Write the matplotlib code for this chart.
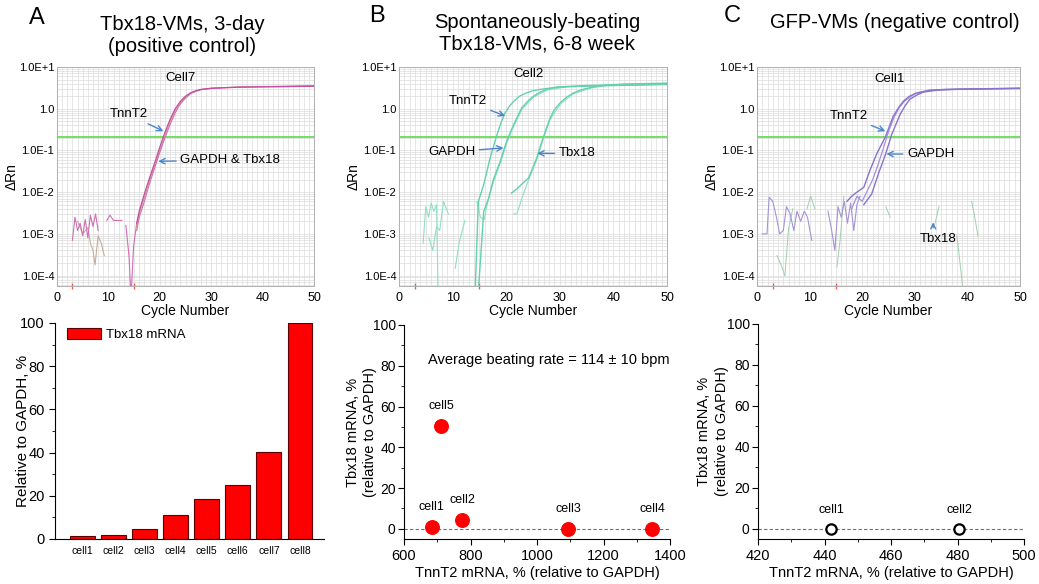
import numpy as np
import matplotlib
matplotlib.use("Agg")
import matplotlib.pyplot as plt
from matplotlib.ticker import MultipleLocator, LogLocator, NullFormatter

plt.rcParams.update({
    'font.family': ['Liberation Sans', 'DejaVu Sans'],
    'font.size': 9,
})

W, H = 1039, 584

# ---------------- datos: curvas qPCR (ciclo, ΔRn) ----------------
# Panel A: Tbx18-VMs 3 días (Cell7)
A_tnnt2_cyc = [15.5, 16, 17, 18, 19, 20, 21, 22, 23, 24, 25, 26, 27, 28, 30, 33, 36, 40, 45, 50]
A_tnnt2_val = [0.0018, 0.0035, 0.009, 0.022, 0.05, 0.12, 0.27, 0.55, 1.0, 1.5, 2.0, 2.4, 2.7, 2.9, 3.1, 3.2, 3.3, 3.35, 3.4, 3.45]
A_gapdh_val = [0.0012, 0.0025, 0.006, 0.016, 0.038, 0.09, 0.2, 0.42, 0.8, 1.3, 1.8, 2.3, 2.6, 2.85, 3.05, 3.2, 3.3, 3.35, 3.4, 3.5]
A_tbx18_val = [0.0015, 0.003, 0.0075, 0.019, 0.044, 0.1, 0.23, 0.48, 0.9, 1.4, 1.9, 2.35, 2.65, 2.9, 3.1, 3.25, 3.35, 3.4, 3.5, 3.6]
A_noise1_cyc = [3, 3.5, 4, 4.5, 5, 5.5, 6, 6.5, 7, 7.5, 8]
A_noise1_val = [0.0007, 0.0025, 0.0012, 0.0018, 0.0009, 0.0022, 0.0008, 0.0028, 0.0015, 0.0030, 0.0012]
A_noise2_cyc = [4, 5, 6, 6.5, 7, 7.4, 8, 8.6, 9.2]
A_noise2_val = [0.0020, 0.0010, 0.0014, 0.0006, 0.0004, 0.00018, 0.0009, 0.0006, 0.0003]
A_noise3_cyc = [9.7, 10.3, 11, 12.6]
A_noise3_val = [0.0021, 0.0028, 0.0021, 0.0021]
A_dip_cyc = [13.4, 14.0, 14.4, 14.9, 15.5]
A_dip_val = [0.0016, 0.0003, 0.00003, 0.0005, 0.0018]

# Panel B: Tbx18-VMs 6-8 semanas (Cell2)
B_tnnt2_cyc = [14.2, 14.8, 15.8, 17.0, 18.2, 19.0, 19.8, 20.6, 21.4, 22.5, 23.8, 25, 26.3, 28, 29.5, 32, 36, 40, 45, 50]
B_tnnt2_val = [0.00004, 0.006, 0.015, 0.066, 0.22, 0.45, 0.8, 1.15, 1.5, 2.0, 2.4, 2.7, 2.9, 3.1, 3.3, 3.4, 3.5, 3.6, 3.7, 3.8]
B_gapdh_cyc = [14.8, 15.8, 16.7, 17.6, 18.9, 20.1, 21.4, 22.9, 24, 25.1, 26.3, 27.6, 29, 31.3, 35, 40, 45, 50]
B_gapdh_val = [0.00004, 0.0034, 0.007, 0.02, 0.055, 0.17, 0.42, 1.05, 1.5, 2.0, 2.5, 2.9, 3.2, 3.4, 3.6, 3.7, 3.8, 3.9]
B_gapdh2_cyc = [14.5, 15.2, 15.9, 16.5, 17.6, 18.9, 20.1, 21.4, 22.9, 25.1, 27.6, 31.3, 40, 50]
B_gapdh2_val = [0.006, 0.0025, 0.0022, 0.0055, 0.017, 0.05, 0.15, 0.38, 0.95, 1.9, 2.8, 3.35, 3.7, 3.85]
B_tbx18a_cyc = [21.0, 22.0, 23.0, 24.2, 25.0, 25.7, 26.4, 27.0, 27.6, 28.2, 29.0, 30.1, 31.3, 32.6, 34, 35.7, 37, 38.8, 42, 46, 50]
B_tbx18a_val = [0.0095, 0.012, 0.016, 0.022, 0.04, 0.066, 0.13, 0.22, 0.37, 0.6, 0.95, 1.4, 1.9, 2.4, 2.85, 3.2, 3.5, 3.7, 3.9, 4.0, 4.1]
B_tbx18b_cyc = [21.4, 22.0, 22.9, 24.2, 25.7, 27.0, 28.2, 30.1, 32.6, 35.7, 38.8, 42, 46, 50]
B_tbx18b_val = [0.003, 0.003, 0.007, 0.02, 0.06, 0.2, 0.55, 1.3, 2.3, 3.1, 3.6, 3.85, 3.95, 4.05]
B_noise1_cyc = [4.5, 5.0, 5.5, 6.0, 6.5, 7.0, 7.3]
B_noise1_val = [0.0006, 0.0045, 0.0025, 0.0055, 0.0035, 0.005, 0.00004]
B_noise2_cyc = [5.6, 6.3, 7.0, 7.6, 8.3, 9.2]
B_noise2_val = [0.0008, 0.0004, 0.0015, 0.0012, 0.006, 0.003]
B_noise3_cyc = [10.5, 11.2, 12.3]
B_noise3_val = [0.00015, 0.0006, 0.0021]

# Panel C: GFP-VMs (Cell1)
C_tnnt2_cyc = [17.1, 18, 19, 20.3, 21.5, 22.8, 24.4, 25.9, 27.0, 27.8, 29, 30.4, 32.9, 36, 40, 45, 50]
C_tnnt2_val = [0.006, 0.008, 0.01, 0.013, 0.034, 0.085, 0.21, 0.66, 1.1, 1.5, 2.0, 2.4, 2.8, 2.9, 2.95, 3.0, 3.05]
C_gapdh_cyc = [20.3, 21.8, 23.1, 24.4, 25.6, 27.2, 28.2, 29.1, 30.3, 31.6, 34.8, 38, 42, 46, 50]
C_gapdh_val = [0.005, 0.009, 0.028, 0.078, 0.24, 0.73, 1.2, 1.7, 2.1, 2.5, 2.85, 2.95, 3.0, 3.05, 3.1]
C_third_cyc = [18, 19, 20, 21, 22, 23, 24, 25, 26, 27, 28, 30, 33, 40, 50]
C_third_val = [0.004, 0.008, 0.006, 0.011, 0.02, 0.045, 0.11, 0.28, 0.6, 1.05, 1.5, 2.3, 2.75, 2.95, 3.1]
C_noise1_cyc = [1.0, 1.9, 2.3, 3.0, 3.7, 4.3, 5.0, 5.6, 6.3, 7.0, 7.6, 8.3, 9.0, 9.6, 10.4]
C_noise1_val = [0.001, 0.001, 0.0075, 0.006, 0.0025, 0.001, 0.0012, 0.0045, 0.003, 0.0012, 0.0035, 0.002, 0.0035, 0.0025, 0.0007]
C_noise2_cyc = [13.5, 14.2, 14.8, 15.4, 16.0, 16.6, 17.2, 17.8, 18.4, 19.0, 19.6]
C_noise2_val = [0.0035, 0.0012, 0.0004, 0.0045, 0.0025, 0.006, 0.0018, 0.0055, 0.0012, 0.005, 0.008]
C_green_segs = [
    ([3.8, 4.6, 5.3], [0.0003, 0.00018, 0.0001]),
    ([5.3, 6.0, 6.8], [0.0001, 0.0013, 0.004]),
    ([9.5, 10.2, 11.0], [0.004, 0.008, 0.004]),
    ([15.2, 15.8, 16.5], [0.00016, 0.0007, 0.008]),
    ([24.5, 25.3], [0.0045, 0.0025]),
    ([33.8, 34.6], [0.0017, 0.0045]),
    ([38.0, 38.6, 39.2], [0.0009, 0.0002, 0.00004]),
    ([40.8, 41.3, 42.0], [0.006, 0.003, 0.0009]),
]

threshold = 0.21
baseline_marks = [3, 15]
decade_ticks = [1e1, 1.0, 1e-1, 1e-2, 1e-3, 1e-4]
decade_labels = ['1.0E+1', '1.0', '1.0E-1', '1.0E-2', '1.0E-3', '1.0E-4']

# ---------------- datos: paneles inferiores ----------------
bar_cells = ['cell1', 'cell2', 'cell3', 'cell4', 'cell5', 'cell6', 'cell7', 'cell8']
bar_tbx18 = [1.3, 1.8, 4.5, 11, 18.5, 25, 40.5, 100]

B_cells = ['cell1', 'cell2', 'cell3', 'cell4', 'cell5']
B_tnnt2 = [683, 775, 1094, 1346, 712]
B_tbx18 = [1.0, 4.4, 0.0, 0.0, 50.5]

C_cells = ['cell1', 'cell2']
C_tnnt2 = [442, 480.5]
C_tbx18 = [0.0, 0.0]


def box(l, t, r, b):
    return [l / W, 1 - b / H, (r - l) / W, (b - t) / H]


def qpcr_axes(rect):
    ax = fig.add_axes(rect)
    ax.set_yscale('log')
    ax.set_xlim(0, 50)
    ax.set_ylim(10 ** -4.25, 10)
    ax.xaxis.set_minor_locator(MultipleLocator(1))
    ax.yaxis.set_minor_locator(LogLocator(base=10, subs=np.arange(2, 10)))
    ax.yaxis.set_minor_formatter(NullFormatter())
    ax.grid(True, which='both', color='#dcdcdc', lw=0.5)
    ax.set_axisbelow(True)
    ax.set_xticks([0, 10, 20, 30, 40, 50])
    ax.set_yticks(decade_ticks)
    ax.set_yticklabels(decade_labels)
    ax.tick_params(which='both', length=0, labelsize=8, pad=2)
    ax.tick_params(axis='x', labelsize=9, pad=4)
    for s in ax.spines.values():
        s.set_color('#b0b0b0')
        s.set_linewidth(0.7)
    ax.axhline(threshold, color='#66dd55', lw=1.3)
    ax.plot(baseline_marks, [10 ** -4.25] * 2, '|', color='#ff5555', ms=4, clip_on=False)
    ax.set_xlabel('Cycle Number', fontsize=10, labelpad=0)
    ax.set_ylabel('ΔRn', fontsize=10, labelpad=0)
    return ax


def arrow(ax, text, xy, xytext, ha='center'):
    ax.annotate(text, xy=xy, xytext=xytext, fontsize=9.5, ha=ha, va='center',
                arrowprops=dict(arrowstyle='->', color='#4a86c8', lw=1,
                                shrinkA=1, shrinkB=0))


fig = plt.figure(figsize=(W / 100, H / 100), dpi=100)

# ---------- A arriba ----------
axA = qpcr_axes(box(57, 67, 314, 286))
mag = '#c24e9e'
axA.plot(A_noise2_cyc, A_noise2_val, color='#c9ad95', lw=0.8)
axA.plot(A_noise1_cyc, A_noise1_val, color='#cf6fb4', lw=0.8)
axA.plot(A_noise3_cyc, A_noise3_val, color='#cf6fb4', lw=0.8)
axA.plot(A_dip_cyc, A_dip_val, color='#cf6fb4', lw=0.8)
axA.plot(A_tnnt2_cyc, A_tbx18_val, color='#c9a080', lw=0.7)
axA.plot(A_tnnt2_cyc, A_gapdh_val, color='#d070b6', lw=0.8)
axA.plot(A_tnnt2_cyc, A_tnnt2_val, color=mag, lw=0.9)
axA.text(24, 5.6, 'Cell7', ha='center', va='center', fontsize=9.5)
arrow(axA, 'TnnT2', (20.7, 0.29), (13.9, 0.73))
arrow(axA, 'GAPDH & Tbx18', (19.7, 0.055), (24.0, 0.058), ha='left')

# ---------- B arriba ----------
axB = qpcr_axes(box(399, 67, 667, 286))
teal = '#63d0ae'
for cyc, val in [(B_noise1_cyc, B_noise1_val), (B_noise2_cyc, B_noise2_val),
                 (B_noise3_cyc, B_noise3_val), (B_gapdh2_cyc, B_gapdh2_val),
                 (B_tbx18b_cyc, B_tbx18b_val)]:
    axB.plot(cyc, val, color='#8fe0c4', lw=0.8)
axB.plot(B_tnnt2_cyc, B_tnnt2_val, color=teal, lw=1.0)
axB.plot(B_gapdh_cyc, B_gapdh_val, color=teal, lw=1.0)
axB.plot(B_tbx18a_cyc, B_tbx18a_val, color=teal, lw=1.0)
axB.text(24.2, 6.7, 'Cell2', ha='center', va='center', fontsize=9.5)
arrow(axB, 'TnnT2', (19.8, 0.67), (12.8, 1.5))
arrow(axB, 'GAPDH', (19.5, 0.115), (9.8, 0.092))
arrow(axB, 'Tbx18', (25.8, 0.085), (29.8, 0.085), ha='left')

# ---------- C arriba ----------
axC = qpcr_axes(box(757, 67, 1020, 286))
purple = '#8a73cc'
for cyc, val in C_green_segs:
    axC.plot(cyc, val, color='#9fcfae', lw=0.7)
axC.plot(C_noise1_cyc, C_noise1_val, color='#a593d8', lw=0.8)
axC.plot(C_noise2_cyc, C_noise2_val, color='#a593d8', lw=0.8)
axC.plot(C_third_cyc, C_third_val, color='#a593d8', lw=0.9)
axC.plot(C_tnnt2_cyc, C_tnnt2_val, color=purple, lw=1.0)
axC.plot(C_gapdh_cyc, C_gapdh_val, color=purple, lw=1.0)
axC.text(25.2, 5.3, 'Cell1', ha='center', va='center', fontsize=9.5)
arrow(axC, 'TnnT2', (24.4, 0.29), (17.4, 0.66))
arrow(axC, 'GAPDH', (24.6, 0.082), (28.5, 0.082), ha='left')
axC.annotate('', xy=(33.5, 0.0022), xytext=(33.5, 0.0012),
             arrowprops=dict(arrowstyle='->', color='#4a86c8', lw=1))
axC.text(34.5, 0.00074, 'Tbx18', ha='center', va='center', fontsize=9.5)

# ---------- A abajo: barras ----------
axb = fig.add_axes(box(55, 323, 324, 539))
x = np.arange(len(bar_cells))
axb.bar(x, bar_tbx18, width=0.8, color='#ff0000', edgecolor='#5a0000', lw=0.8,
        label='Tbx18 mRNA')
axb.set_xlim(-0.87, 7.77)
axb.set_ylim(0, 100)
axb.set_xticks(x)
axb.set_xticklabels(bar_cells, fontsize=7.5)
axb.tick_params(axis='x', length=0, pad=5)
axb.yaxis.set_major_locator(MultipleLocator(20))
axb.yaxis.set_minor_locator(MultipleLocator(10))
axb.tick_params(axis='y', which='major', length=4, labelsize=10.5, direction='out')
axb.tick_params(axis='y', which='minor', length=2, direction='out')
axb.spines['top'].set_visible(False)
axb.spines['right'].set_visible(False)
axb.set_ylabel('Relative to GAPDH, %', fontsize=11)
axb.yaxis.set_label_coords(-0.093, 0.5)
axb.legend(loc='upper left', bbox_to_anchor=(0.0, 1.03), frameon=False, fontsize=9.5,
           handlelength=2.6, handleheight=0.9, handletextpad=0.4)


def scatter_axes(rect, xlim, xmajor, xminor, labx):
    ax = fig.add_axes(rect)
    ax.set_xlim(*xlim)
    ax.set_ylim(-5, 100)
    ax.xaxis.set_major_locator(MultipleLocator(xmajor))
    ax.xaxis.set_minor_locator(MultipleLocator(xminor))
    ax.yaxis.set_major_locator(MultipleLocator(20))
    ax.yaxis.set_minor_locator(MultipleLocator(10))
    ax.tick_params(which='major', length=4, labelsize=10.5, direction='out')
    ax.tick_params(axis='y', which='major', labelsize=10, pad=2)
    ax.tick_params(which='minor', length=2, direction='out')
    ax.spines['top'].set_visible(False)
    ax.spines['right'].set_visible(False)
    ax.axhline(0, color='#707070', lw=0.8, ls=(0, (3, 2)))
    ax.set_xlabel('TnnT2 mRNA, % (relative to GAPDH)', fontsize=10.5, labelpad=2)
    ax.set_ylabel('Tbx18 mRNA, %\n(relative to GAPDH)', fontsize=10.5, linespacing=1.3)
    ax.yaxis.set_label_coords(labx, 0.5)
    return ax


# ---------- B abajo ----------
axs = scatter_axes(box(404, 325, 670, 539), (600, 1400), 200, 100, -0.10)
axs.scatter(B_tnnt2, B_tbx18, s=95, color='#ff0000', zorder=3)
for name, xv, yv in zip(B_cells, B_tnnt2, B_tbx18):
    axs.annotate(name, (xv, yv), xytext=(0, 10), textcoords='offset points',
                 ha='center', va='bottom', fontsize=9)
axs.text(672, 83, 'Average beating rate = 114 ± 10 bpm', fontsize=10.5, va='center')

# ---------- C abajo ----------
axn = scatter_axes(box(758, 324, 1024, 539), (420, 500), 20, 10, -0.11)
axn.scatter(C_tnnt2, C_tbx18, s=55, facecolor='white', edgecolor='black', lw=1.6, zorder=3)
for name, xv, yv in zip(C_cells, C_tnnt2, C_tbx18):
    axn.annotate(name, (xv, yv), xytext=(0, 9), textcoords='offset points',
                 ha='center', va='bottom', fontsize=9)

# ---------- títulos ----------
fig.text(182 / W, 1 - 25 / H, 'Tbx18-VMs, 3-day', ha='center', va='center', fontsize=14.5)
fig.text(182 / W, 1 - 47 / H, '(positive control)', ha='center', va='center', fontsize=14.5)
fig.text(537 / W, 1 - 22 / H, 'Spontaneously-beating', ha='center', va='center', fontsize=14.5)
fig.text(537 / W, 1 - 44 / H, 'Tbx18-VMs, 6-8 week', ha='center', va='center', fontsize=14.5)
fig.text(895 / W, 1 - 22 / H, 'GFP-VMs (negative control)', ha='center', va='center', fontsize=14.5)
fig.text(37 / W, 1 - 18 / H, 'A', ha='center', va='center', fontsize=17)
fig.text(377 / W, 1 - 16 / H, 'B', ha='center', va='center', fontsize=17)
fig.text(732 / W, 1 - 16 / H, 'C', ha='center', va='center', fontsize=17)

fig.savefig('out.png', dpi=100)
